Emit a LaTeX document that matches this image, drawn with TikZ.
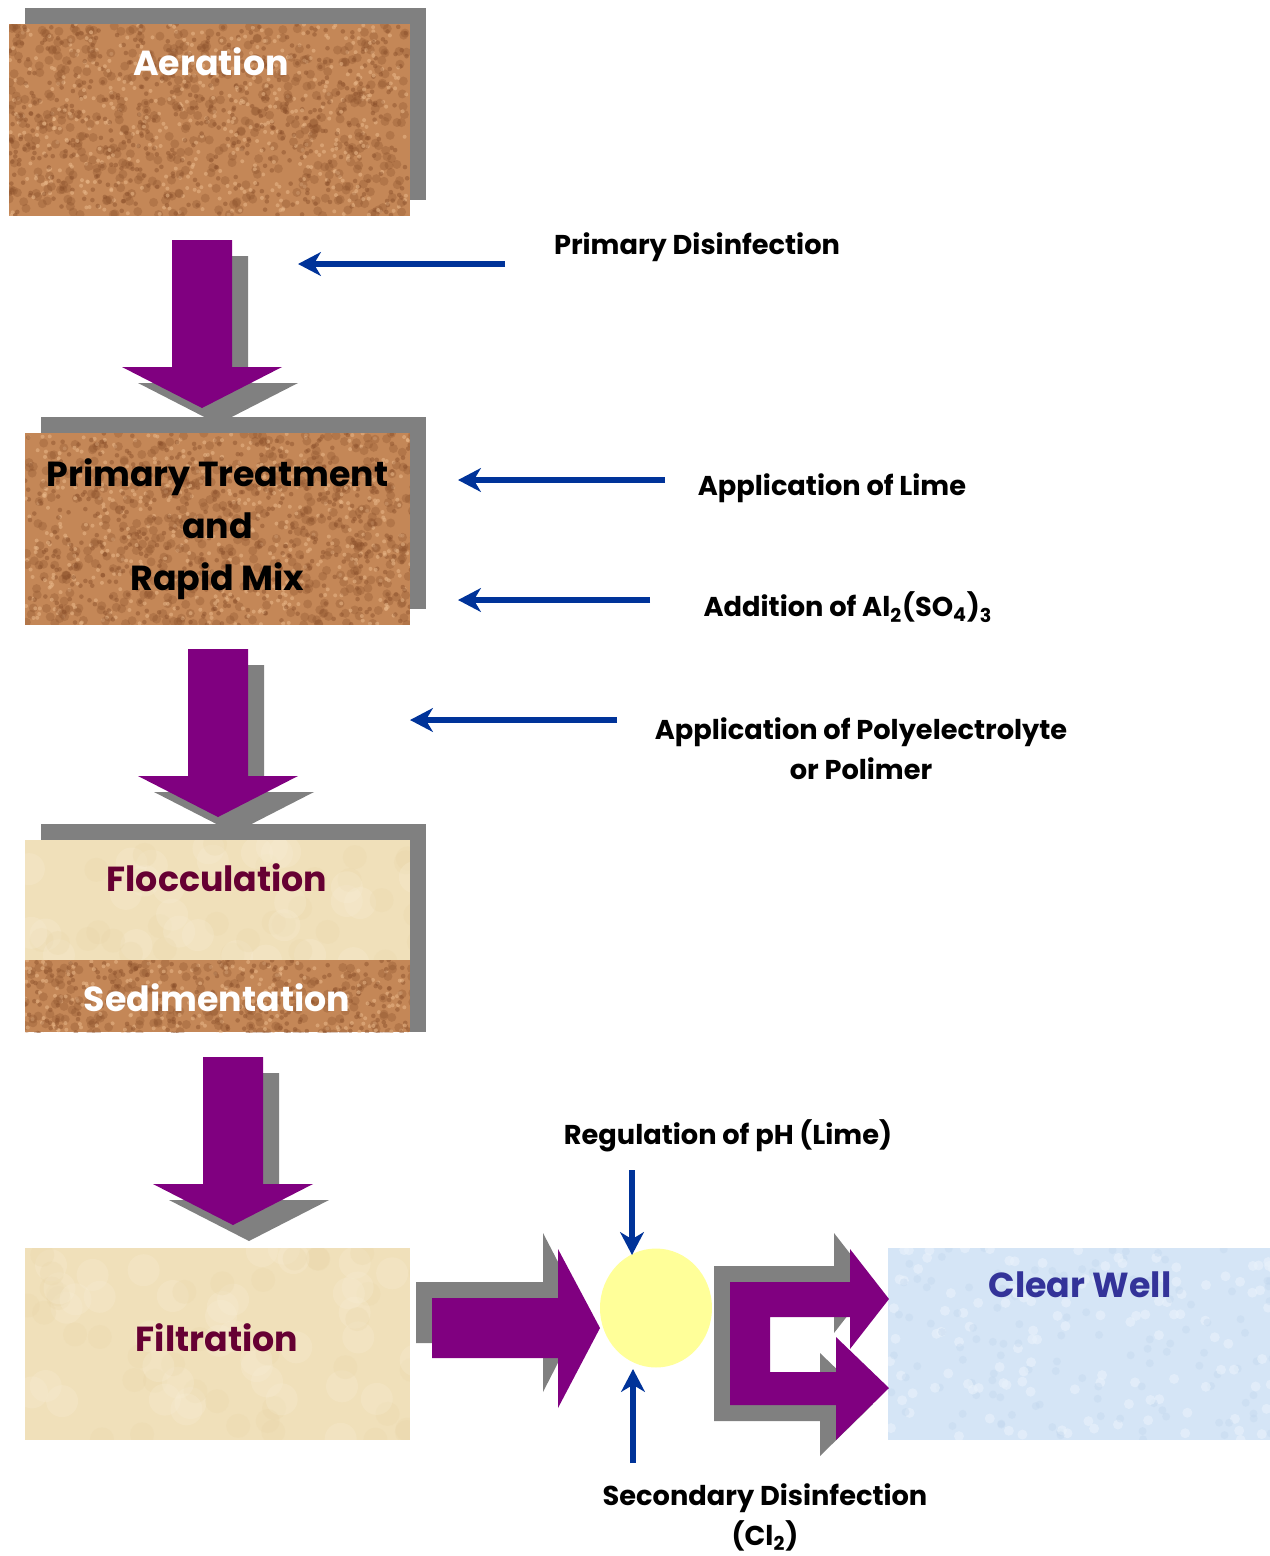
\documentclass[tikz,border=0pt]{standalone}
\usepackage{fontspec}
\setmainfont{Poppins}
\usetikzlibrary{arrows.meta,backgrounds,shapes.geometric}

\definecolor{flowpurple}{HTML}{800080}
\definecolor{shadowgray}{HTML}{808080}
\definecolor{feedblue}{HTML}{003399}
\definecolor{cork}{HTML}{C48757}
\definecolor{corkdark}{HTML}{8A4F2A}
\definecolor{corklight}{HTML}{E9B889}
\definecolor{parch}{HTML}{F0E0BA}
\definecolor{parchlight}{HTML}{F8EED6}
\definecolor{parchdark}{HTML}{E6D2A2}
\definecolor{ice}{HTML}{D5E5F6}
\definecolor{icelight}{HTML}{E9F2FB}
\definecolor{icedark}{HTML}{C2D7EE}
\definecolor{maroon}{HTML}{660033}
\definecolor{wellblue}{HTML}{333399}
\definecolor{mixyellow}{HTML}{FFFF99}

\newcommand{\boxfont}{\fontsize{19.8}{29.5}\selectfont\bfseries}
\newcommand{\lblfont}{\fontsize{15.5}{22.7}\selectfont\bfseries}

% purple block arrow pointing down: name, centre x, top y
\newcommand{\flowdown}[3]{%
  \begin{scope}[shift={(#2,#3)}]
    \fill[shadowgray] (-14,16) -- (46,16) -- (46,143) -- (96,143) -- (16,184) -- (-64,143) -- (-14,143) -- cycle;
    \fill[flowpurple] (-30,0) -- (30,0) -- (30,127) -- (80,127) -- (0,168) -- (-80,127) -- (-30,127) -- cycle;
    \coordinate (#1) at (0,168);
  \end{scope}}

\tikzset{
  cork/.style={fill=cork, path picture={
      \foreach \k in {1,...,#1}{
        \fill[corkdark, opacity=.3] ([shift={({400*rnd},{192*rnd})}]path picture bounding box.north west) circle (4.5);
        \fill[corkdark, opacity=.45] ([shift={({400*rnd},{192*rnd})}]path picture bounding box.north west) circle (2.3);
        \fill[corklight, opacity=.55] ([shift={({400*rnd},{192*rnd})}]path picture bounding box.north west) circle (2);
      }}},
  parchment/.style={fill=parch, path picture={
      \foreach \k in {1,...,40}{
        \fill[parchlight, opacity=.25] ([shift={({400*rnd},{192*rnd})}]path picture bounding box.north west) circle (16);
        \fill[parchdark, opacity=.2] ([shift={({400*rnd},{192*rnd})}]path picture bounding box.north west) circle (12);
      }}},
  frost/.style={fill=ice, path picture={
      \foreach \k in {1,...,120}{
        \fill[icelight, opacity=.6] ([shift={({390*rnd},{192*rnd})}]path picture bounding box.north west) circle (5);
        \fill[icedark, opacity=.4] ([shift={({390*rnd},{192*rnd})}]path picture bounding box.north west) circle (4);
      }}},
  feed/.style={draw=feedblue, line width=3.4pt, -{Stealth[length=13pt, width=13.5pt, inset=4pt]}}
}

\begin{document}
\begin{tikzpicture}[x=0.02cm, y=-0.02cm]
  \pgfmathsetseed{11}
  \useasboundingbox (0,0) rectangle (1270,1556);
  \tikzstyle{every node}=[align=center, inner sep=1pt]
  \tikzstyle{stage}=[inner sep=0pt, minimum width=7.7cm, minimum height=3.84cm]

  % process stages
  \node[stage, cork=500, minimum width=8.02cm] (aer) at (209.5,120) {};
  \node[stage, cork=500, text=black, font=\boxfont] (prim) at (217.5,529) {Primary Treatment\\and\\Rapid Mix};
  \node[stage, parchment, minimum height=2.4cm] (floc) at (217.5,900) {};
  \node[stage, cork=500, minimum height=1.44cm] (sed) at (217.5,996) {};
  \node[stage, parchment] (fil) at (217.5,1344) {};
  \node[stage, frost, minimum width=7.64cm] (well) at (1079,1344) {};
  \node[ellipse, fill=mixyellow, inner sep=0pt, minimum width=2.24cm, minimum height=2.38cm] (mix) at (656,1308) {};

  \begin{scope}[on background layer]
    \fill[shadowgray] ([shift={(16,-16)}]aer.south west) rectangle ([shift={(16,-16)}]aer.north east);
    \fill[shadowgray] ([shift={(16,-16)}]prim.south west) rectangle ([shift={(16,-16)}]prim.north east);
    \fill[shadowgray] ([shift={(16,-16)}]floc.north west) rectangle ([shift={(16,0)}]sed.south east);
  \end{scope}

  \node[text=white, font=\boxfont] (aer-t) at (211,62) {Aeration};
  \node[text=maroon, font=\boxfont] (floc-t) at (217,878) {Flocculation};
  \node[text=white, font=\boxfont] (sed-t) at (217,998) {Sedimentation};
  \node[text=maroon, font=\boxfont] (fil-t) at (217,1338) {Filtration};
  \node[text=wellblue, font=\boxfont] (well-t) at (1080,1285) {Clear Well};

  % flow between stages
  \flowdown{a1}{202}{240}
  \flowdown{a2}{218}{649}
  \flowdown{a3}{233}{1057}

  % filtration to mixing
  \fill[shadowgray] (416,1282) -- (543,1282) -- (543,1233) -- (584,1312) -- (543,1392) -- (543,1343) -- (416,1343) -- cycle;
  \fill[flowpurple] (432,1298) -- (558,1298) -- (558,1249) -- (600,1328) -- (558,1408) -- (558,1358) -- (432,1358) -- cycle;

  % mixing to clear well
  \fill[shadowgray] (714,1266) -- (834,1266) -- (834,1233) -- (873,1283) -- (834,1333) -- (834,1301) -- (754,1301) -- (754,1421) -- (714,1421) -- cycle;
  \fill[shadowgray] (754,1388) -- (820,1388) -- (820,1353) -- (873,1404) -- (820,1456) -- (820,1421) -- (754,1421) -- cycle;
  \fill[flowpurple] (730,1282) -- (850,1282) -- (850,1249) -- (889,1299) -- (850,1349) -- (850,1317) -- (770,1317) -- (770,1405) -- (730,1405) -- cycle;
  \fill[flowpurple] (770,1372) -- (836,1372) -- (836,1337) -- (889,1388) -- (836,1440) -- (836,1405) -- (770,1405) -- cycle;

  % chemical feeds
  \node[font=\lblfont] (pdis) at (697,247) {Primary Disinfection};
  \node[font=\lblfont] (lime) at (832,488) {Application of Lime};
  \node[font=\lblfont] (alum) at (848,607) {Addition of Al\textsubscript{2}(SO\textsubscript{4})\textsubscript{3}};
  \node[font=\lblfont] (poly) at (861,749) {Application of Polyelectrolyte\\or Polimer};
  \node[font=\lblfont] (ph) at (728,1136) {Regulation of pH (Lime)};
  \node[font=\lblfont] (cl) at (765,1517) {Secondary Disinfection\\(Cl\textsubscript{2})};

  \coordinate (pdis-s) at (505,264);  \coordinate (pdis-e) at (298,264);
  \coordinate (lime-s) at (665,480);  \coordinate (lime-e) at (458,480);
  \coordinate (alum-s) at (650,600);  \coordinate (alum-e) at (458,600);
  \coordinate (poly-s) at (617,720);  \coordinate (poly-e) at (410,720);
  \coordinate (ph-s) at (632,1170);   \coordinate (ph-e) at (632,1255);
  \coordinate (cl-s) at (633,1463);   \coordinate (cl-e) at (633,1369);

  \draw[feed] (pdis-s) -- (pdis-e);
  \draw[feed] (lime-s) -- (lime-e);
  \draw[feed] (alum-s) -- (alum-e);
  \draw[feed] (poly-s) -- (poly-e);
  \draw[feed] (ph-s) -- (ph-e);
  \draw[feed] (cl-s) -- (cl-e);
\end{tikzpicture}
\end{document}
